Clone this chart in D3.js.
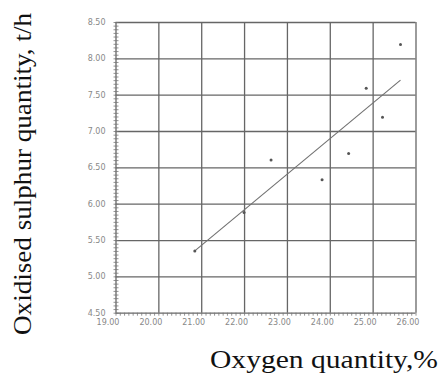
<!DOCTYPE html>
<html><head><meta charset="utf-8">
<script src="https://cdn.jsdelivr.net/npm/d3@7"></script>
<style>body{margin:0;background:#fff}svg{display:block}</style>
</head><body>
<svg id="c" width="441" height="374"></svg>
<script>
// Data
const oxygen  = [20.85, 22.00, 22.63, 23.82, 24.44, 24.85, 25.23, 25.65];
const sulphur = [5.35, 5.88, 6.60, 6.33, 6.69, 7.59, 7.19, 8.19];
const fitX = [20.85, 25.65];
const fitY = [5.35, 7.70];
const xTicks = [19, 20, 21, 22, 23, 24, 25, 26];
const yTicks = [4.5, 5.0, 5.5, 6.0, 6.5, 7.0, 7.5, 8.0, 8.5];
const xTitle = "Oxygen quantity,%";
const yTitle = "Oxidised sulphur quantity, t/h";

const svg = d3.select("#c");
const L = 115.5, R = 415.5, T = 22, B = 312.7;
const x = d3.scaleLinear().domain([19, 26]).range([L, R]);
const y = d3.scaleLinear().domain([4.5, 8.5]).range([B, T]);
const gridCol = "#666", labCol = "#888";

// grid
const gx = svg.append("g").attr("transform", `translate(0,${B})`)
  .call(d3.axisBottom(x).tickValues(xTicks).tickSize(-(B - T)).tickFormat(""));
gx.select(".domain").remove();
gx.selectAll("line").attr("stroke", gridCol).attr("stroke-width", 1.3);
const gy = svg.append("g").attr("transform", `translate(${L},0)`)
  .call(d3.axisLeft(y).tickValues(yTicks).tickSize(-(R - L)).tickFormat(""));
gy.select(".domain").remove();
gy.selectAll("line").attr("stroke", gridCol).attr("stroke-width", 1.3);

// minor ticks
const xMinor = d3.range(190, 261).map(d => d / 10);
const mx = svg.append("g").attr("transform", `translate(0,${B})`)
  .call(d3.axisBottom(x).tickValues(xMinor).tickSize(3).tickFormat(""));
mx.select(".domain").remove();
mx.selectAll("line").attr("stroke", "#777").attr("stroke-width", 0.8);
const yMinor = d3.range(90, 171).map(d => d / 20);
const my = svg.append("g").attr("transform", `translate(${L - 2},0)`)
  .call(d3.axisRight(y).tickValues(yMinor).tickSize(5).tickFormat(""));
my.select(".domain").remove();
my.selectAll("line").attr("stroke", "#777").attr("stroke-width", 0.8);

// tick labels
const lx = svg.append("g").attr("transform", `translate(0,${B})`)
  .call(d3.axisBottom(x).tickValues(xTicks).tickSize(0).tickPadding(7).tickFormat(d3.format(".2f")));
lx.select(".domain").remove();
lx.selectAll("text").attr("dx", -8).attr("fill", labCol)
  .style("font-family", "DejaVu Sans").style("font-size", "8px");
const ly = svg.append("g").attr("transform", `translate(${L},0)`)
  .call(d3.axisLeft(y).tickValues(yTicks).tickSize(0).tickPadding(10).tickFormat(d3.format(".2f")));
ly.select(".domain").remove();
ly.selectAll("text").attr("fill", labCol)
  .style("font-family", "DejaVu Sans").style("font-size", "8px");

// fit line
svg.append("path")
  .datum(fitX.map((d, i) => [d, fitY[i]]))
  .attr("d", d3.line().x(d => x(d[0])).y(d => y(d[1])))
  .attr("fill", "none").attr("stroke", "#707070").attr("stroke-width", 1.1);

// points
svg.append("g").selectAll("circle")
  .data(oxygen.map((d, i) => [d, sulphur[i]]))
  .join("circle")
  .attr("cx", d => x(d[0])).attr("cy", d => y(d[1])).attr("r", 1.5)
  .attr("fill", "#555");

// titles
svg.append("text").text(xTitle)
  .attr("x", 210).attr("y", 368).attr("textLength", 228).attr("lengthAdjust", "spacingAndGlyphs")
  .style("font-family", "'Liberation Serif', 'Times New Roman', serif")
  .style("font-size", "26px").attr("fill", "#111");
svg.append("text").text(yTitle)
  .attr("transform", "translate(31,174) rotate(-90)")
  .attr("text-anchor", "middle").attr("textLength", 322).attr("lengthAdjust", "spacingAndGlyphs")
  .style("font-family", "'Liberation Serif', 'Times New Roman', serif")
  .style("font-size", "26px").attr("fill", "#111");
</script>
</body></html>
